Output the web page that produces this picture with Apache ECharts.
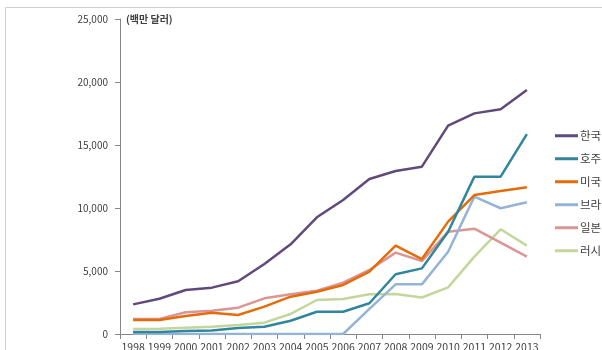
<!DOCTYPE html>
<html>
<head>
<meta charset="utf-8">
<script src="https://cdn.jsdelivr.net/npm/echarts@6/dist/echarts.min.js"></script>
<style>
  html, body { margin: 0; padding: 0; background: #ffffff; }
  #chart { width: 602px; height: 350px; }
</style>
</head>
<body>
<div id="chart"></div>
<script>
// Years on the category axis
const years = ['1998','1999','2000','2001','2002','2003','2004','2005','2006','2007','2008','2009','2010','2011','2012','2013'];

// Values in millions of US dollars
const korea  = [2350, 2800, 3490, 3680, 4180, 5560, 7120, 9260, 10640, 12300, 12940, 13280, 16540, 17510, 17830, 19370];
const australia = [150, 150, 230, 270, 470, 580, 1050, 1770, 1770, 2440, 4740, 5210, 8120, 12490, 12490, 15870];
const usa    = [1110, 1110, 1430, 1690, 1510, 2170, 2960, 3360, 3890, 4950, 7010, 5950, 8920, 11030, 11350, 11640];
const brazil = [0, 0, 0, 0, 0, 0, 0, 0, 0, 2000, 3940, 3940, 6530, 10900, 9980, 10450];
const japan  = [1190, 1190, 1720, 1850, 2090, 2830, 3150, 3440, 4080, 5080, 6460, 5790, 8120, 8360, 7250, 6140];
const russia = [400, 410, 500, 580, 710, 900, 1590, 2700, 2780, 3150, 3175, 2900, 3700, 6140, 8310, 7010];

const seriesNames = ['한국', '호주', '미국', '브라질', '일본', '러시아'];
const seriesData  = [korea, australia, usa, brazil, japan, russia];
const colors = ['#604a7b', '#31859c', '#e46c0a', '#95b3d7', '#d99694', '#c3d69b'];

const chart = echarts.init(document.getElementById('chart'), null, { renderer: 'canvas' });

chart.setOption({
  animation: false,
  color: colors,
  textStyle: { fontFamily: '"Noto Sans CJK KR", "Noto Sans", sans-serif' },
  graphic: [{
    type: 'rect',
    shape: { x: 5.5, y: 7.5, width: 700, height: 400 },
    style: { fill: 'none', stroke: '#d0d0d0', lineWidth: 1 },
    silent: true,
    z: -1
  }, {
    type: 'text',
    left: 126,
    top: 14,
    style: {
      text: '(백만 달러)',
      font: 'bold 10px "Noto Sans CJK KR", sans-serif',
      fill: '#404040'
    }
  }],
  grid: { left: 120, right: 62, top: 19, bottom: 16, containLabel: false, outerBoundsMode: 'none' },
  legend: {
    orient: 'vertical',
    left: 550,
    top: 125,
    icon: 'rect',
    itemWidth: 23,
    itemHeight: 3,
    itemGap: 11.5,
    textStyle: { fontSize: 11.5, color: '#404040', padding: [0, 0, 0, -3] },
    data: seriesNames
  },
  xAxis: {
    type: 'category',
    data: years,
    boundaryGap: true,
    axisLine: { lineStyle: { color: '#868686', width: 1 } },
    axisTick: { show: true, alignWithLabel: false, length: 5, lineStyle: { color: '#868686' } },
    axisLabel: { color: '#404040', fontSize: 10.5, margin: 8, interval: 0 },
    splitLine: { show: false }
  },
  yAxis: {
    type: 'value',
    min: 0,
    max: 25000,
    interval: 5000,
    axisLine: { show: true, lineStyle: { color: '#868686', width: 1 } },
    axisTick: { show: true, length: 5, lineStyle: { color: '#868686' } },
    axisLabel: {
      color: '#404040',
      fontSize: 10,
      margin: 12,
      formatter: v => v.toLocaleString('en-US')
    },
    splitLine: { show: false }
  },
  series: seriesNames.map((name, i) => ({
    name: name,
    type: 'line',
    data: seriesData[i],
    symbol: 'none',
    lineStyle: { width: 2.5, color: colors[i] },
    itemStyle: { color: colors[i] },
    z: 10 - i
  }))
});
</script>
</body>
</html>
